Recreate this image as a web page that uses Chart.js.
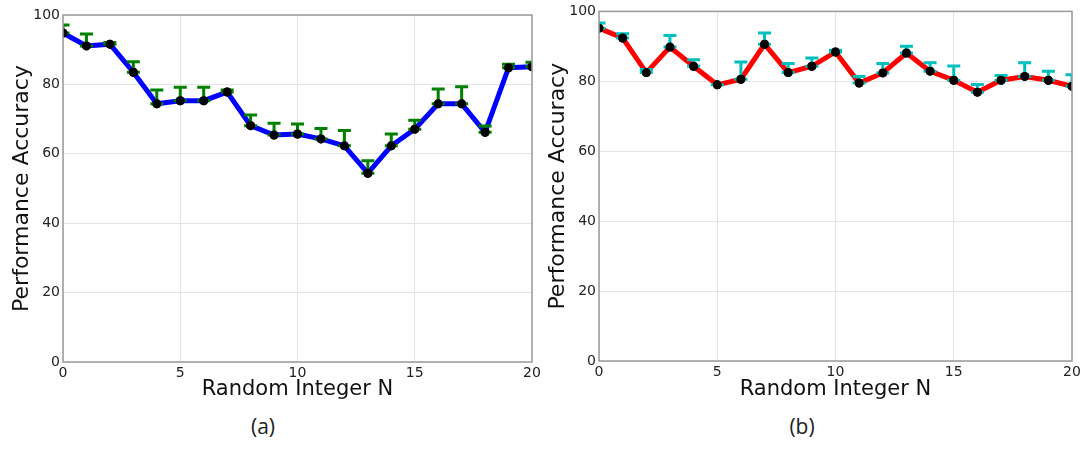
<!DOCTYPE html>
<html>
  <head>
    <meta charset="utf-8">
    <title>Performance Accuracy vs Random Integer N</title>
    <script src="https://cdn.jsdelivr.net/npm/chart.js@4.4.1/dist/chart.umd.min.js"></script>
    <style>
      body {
        margin: 0;
        background: #fff;
        width: 1088px;
        height: 450px;
        position: relative;
        overflow: hidden;
      }
      .panel {
        position: absolute;
        top: 0;
        height: 400px;
      }
      .caption {
        position: absolute;
        top: 412px;
        width: 60px;
        text-align: center;
        font-family: "Open Sans", Lato, sans-serif;
        font-size: 21px;
        color: #222;
      }
    </style>
  </head>
  <body>
    <div class="panel" style="left:0px; width:545px;"><canvas id="chartA"></canvas></div>
    <div class="panel" style="left:540px; width:548px;"><canvas id="chartB"></canvas></div>
    <div class="caption" style="left:233px;">(a)</div>
    <div class="caption" style="left:772px;">(b)</div>

  <script>
    // values
    const nValues = [0, 1, 2, 3, 4, 5, 6, 7, 8, 9, 10, 11, 12, 13, 14, 15, 16, 17, 18, 19, 20];

    const accA = [94.8, 91.1, 91.6, 83.5, 74.4, 75.3, 75.3, 77.8, 68.1, 65.4, 65.7,
                  64.3, 62.3, 54.4, 62.3, 67.1, 74.4, 74.4, 66.2, 84.8, 85.1];
    // upper error (caps drawn above the point)
    const errA = [2.3, 3.4, 0.5, 3.0, 4.0, 3.9, 3.9, 0.6, 3.1, 3.4, 2.9,
                  3.0, 4.4, 3.6, 3.4, 2.6, 4.3, 4.9, 1.8, 1.0, 1.3];

    const accB = [95.2, 92.4, 82.5, 89.8, 84.3, 79.0, 80.6, 90.6, 82.5, 84.3, 88.4,
                  79.5, 82.4, 88.1, 82.9, 80.3, 76.9, 80.3, 81.4, 80.3, 78.6];
    const errB = [1.5, 1.2, 0.9, 3.3, 1.9, 0.0, 4.9, 3.2, 2.6, 2.4, 0.5,
                  1.9, 2.7, 1.9, 2.4, 4.1, 2.2, 1.4, 3.9, 2.6, 3.3];

    const yTicks = [0, 20, 40, 60, 80, 100];
    const xTicks = [0, 5, 10, 15, 20];

    const FONT = "'DejaVu Sans', Verdana, sans-serif";

    // frame around the plot area, like the matplotlib axes box
    const framePlugin = {
      id: "frame",
      afterDraw(chart) {
        const { ctx, chartArea: a } = chart;
        ctx.save();
        ctx.strokeStyle = "#9a9a9a";
        ctx.lineWidth = 1.5;
        ctx.strokeRect(a.left, a.top, a.right - a.left, a.bottom - a.top);
        ctx.restore();
      },
    };

    // upward error bars with caps, then the markers again on top (clipped to the axes)
    const errorBarPlugin = {
      id: "errorbars",
      afterDatasetsDraw(chart, args, opts) {
        if (!opts.err) return;
        const { ctx, scales, chartArea: a } = chart;
        const pts = chart.data.datasets[0].data;
        ctx.save();
        ctx.beginPath();
        ctx.rect(a.left, a.top, a.right - a.left, a.bottom - a.top);
        ctx.clip();
        ctx.strokeStyle = opts.color;
        ctx.lineWidth = 3;
        const cap = 6.5;
        pts.forEach((p, i) => {
          const x = scales.x.getPixelForValue(p.x);
          const y0 = scales.y.getPixelForValue(p.y);
          const y1 = scales.y.getPixelForValue(p.y + opts.err[i]);
          ctx.beginPath();
          ctx.moveTo(x, y0);
          ctx.lineTo(x, y1);
          ctx.moveTo(x - cap, y1);
          ctx.lineTo(x + cap, y1);
          ctx.moveTo(x - cap, y0);
          ctx.lineTo(x + cap, y0);
          ctx.stroke();
        });
        chart.getDatasetMeta(0).data.forEach((pt) => pt.draw(ctx, a));
        ctx.restore();
      },
    };

    function makeConfig(acc, err, lineColor, barColor, pad, yWidth, xHeight, yTitlePad) {
      return {
        type: "line",
        data: {
          datasets: [
            {
              data: nValues.map((n, i) => ({ x: n, y: acc[i] })),
              borderColor: lineColor,
              borderWidth: 5,
              tension: 0,
              clip: 0,
              pointRadius: 4.5,
              pointHoverRadius: 4.5,
              pointBackgroundColor: "#000",
              pointBorderColor: "#000",
              pointBorderWidth: 0,
            },
          ],
        },
        options: {
          responsive: true,
          maintainAspectRatio: false,
          animation: false,
          layout: { padding: pad },
          plugins: {
            legend: { display: false },
            tooltip: { enabled: false },
            errorbars: { err: err, color: barColor },
          },
          scales: {
            x: {
              type: "linear",
              min: 0,
              max: 20,
              afterBuildTicks: (s) => { s.ticks = xTicks.map((v) => ({ value: v })); },
              afterFit: (s) => { s.height = xHeight; },
              border: { display: false },
              grid: { color: "#e4e4e4", lineWidth: 1, drawTicks: false },
              ticks: { padding: 3, color: "#222", font: { family: FONT, size: 14 } },
              title: {
                display: true,
                text: "Random Integer N",
                color: "#111",
                font: { family: FONT, size: 21, lineHeight: 1 },
                padding: { top: 0, bottom: 0 },
              },
            },
            y: {
              min: 0,
              max: 100,
              afterBuildTicks: (s) => { s.ticks = yTicks.map((v) => ({ value: v })); },
              afterFit: (s) => { s.width = yWidth; },
              border: { display: false },
              grid: { color: "#e4e4e4", lineWidth: 1, drawTicks: false },
              ticks: { padding: 3, color: "#222", font: { family: FONT, size: 14 } },
              title: {
                display: true,
                text: "Performance Accuracy",
                color: "#111",
                font: { family: FONT, size: 22, lineHeight: 1 },
                padding: { top: yTitlePad, bottom: 0 },
              },
            },
          },
        },
        plugins: [errorBarPlugin, framePlugin],
      };
    }

    new Chart(document.getElementById("chartA"),
      makeConfig(accA, errA, "#0000ff", "#008000", { top: 15, right: 13, left: 0, bottom: 0 }, 63, 38, 11));
    new Chart(document.getElementById("chartB"),
      makeConfig(accB, errB, "#ff0000", "#00bfbf", { top: 11, right: 16, left: 0, bottom: 0 }, 59, 39, 7));
  </script>
  </body>
</html>
